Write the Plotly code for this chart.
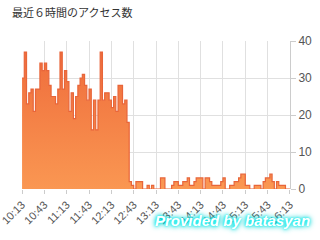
import datetime as dt
import plotly.graph_objects as go

title = "最近６時間のアクセス数"
start = dt.datetime(2014, 1, 1, 10, 13)
step_min = 3
counts = [30, 37, 23, 26, 27, 21, 27, 27, 34, 32, 34, 32, 28, 25, 25, 23,
          27, 37, 27, 32, 29, 21, 26, 19, 25, 28, 30, 31, 28, 24, 27, 16,
          24, 16, 24, 37, 24, 26, 26, 24, 22, 25, 21, 28, 28, 23, 24, 18,
          2, 1, 0, 2, 2, 2, 0, 0, 1, 0, 1, 0, 0, 0, 3, 3,
          0, 0, 0, 1, 2, 2, 1, 1, 2, 2, 3, 1, 1, 2, 3, 3,
          3, 0, 3, 3, 2, 1, 1, 1, 1, 2, 3, 0, 0, 1, 1, 2,
          2, 3, 4, 4, 1, 1, 0, 0, 1, 1, 1, 0, 2, 3, 3, 4,
          2, 0, 2, 1, 1, 1, 0, 0]
y_ticks = [0, 10, 20, 30, 40]
watermark = "Provided by batasyan"

times = [start + dt.timedelta(minutes=step_min * i) for i in range(len(counts))]
times_ext = times + [times[-1] + dt.timedelta(minutes=step_min)]
counts_ext = counts + [counts[-1]]
end = start + dt.timedelta(hours=6)
tick_vals = [start + dt.timedelta(minutes=30 * k) for k in range(13)]
tick_text = [t.strftime("%H:%M") for t in tick_vals]

font_fam = "Liberation Sans, Noto Sans CJK JP, sans-serif"

fig = go.Figure()
fig.add_trace(go.Scatter(
    x=times_ext, y=counts_ext, mode="lines", line_shape="hv",
    line=dict(color="#e8653a", width=1.2),
    fill="tozeroy",
    fillgradient=dict(type="vertical",
                      colorscale=[[0, "#fa9752"], [1, "#ef6d3c"]]),
    hoverinfo="skip",
))

fig.update_layout(
    width=320, height=240,
    margin=dict(l=22, r=30, t=41, b=51, autoexpand=False),
    paper_bgcolor="white", plot_bgcolor="white",
    showlegend=False,
    font=dict(family=font_fam, color="#666666", size=11),
    title=dict(text=title, x=12 / 320, y=1 - 13 / 240, xanchor="left",
               yanchor="middle", xref="container", yref="container",
               font=dict(size=11, color="#333333", family="Noto Sans CJK JP")),
    xaxis=dict(range=[start - dt.timedelta(seconds=5), end + dt.timedelta(seconds=5)],
               type="date", tickmode="array", tickvals=tick_vals, ticktext=tick_text,
               tickangle=-45, showgrid=True, ticklabeloverflow="allow", automargin=False,
               gridcolor="#e0e0e0", gridwidth=1, ticks="outside", ticklen=4,
               tickcolor="#cccccc", showline=False, zeroline=False,
               tickfont=dict(size=11, color="#555555")),
    yaxis=dict(range=[0, 40], side="right", tickvals=y_ticks, automargin=False,
               showgrid=True, gridcolor="#e0e0e0", ticks="outside", ticklen=5,
               tickcolor="#cccccc", showline=True, linecolor="#cccccc",
               zeroline=False, tickfont=dict(size=12, color="#555555")),
    annotations=[dict(text="<i><b>" + watermark + "</b></i>", xref="paper", yref="paper",
                      x=(312 - 22) / 268, y=-(220 - 189) / 148, xanchor="right",
                      yanchor="middle", showarrow=False,
                      font=dict(size=15, color="white", family="Liberation Sans",
                                shadow="0px 0px 2px #00ffff, 0px 0px 4px #00e0e0, 0px 0px 6px #00c8c8"))],
)

fig.write_html("out.html")
